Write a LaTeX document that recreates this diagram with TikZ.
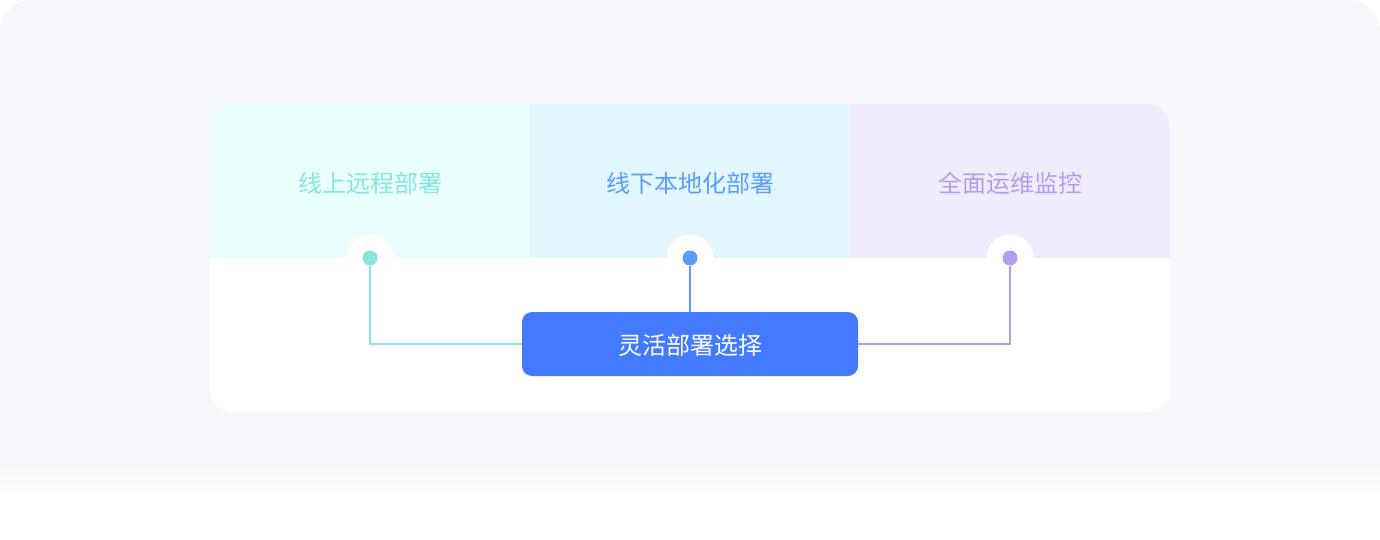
\documentclass[tikz,border=0pt]{standalone}
\usepackage{fontspec}
\usepackage{tikz}
\newfontfamily\cjk{Noto Sans CJK SC}
\definecolor{pagebg}{HTML}{F7F8FC}
\definecolor{tealbg}{HTML}{E8FFFD}
\definecolor{bluebg}{HTML}{E2F6FE}
\definecolor{purplebg}{HTML}{F1ECFD}
\definecolor{tealfg}{HTML}{8BE5DE}
\definecolor{bluefg}{HTML}{5C9CFF}
\definecolor{purplefg}{HTML}{B39DF1}
\definecolor{choicebg}{HTML}{437AFF}

\begin{document}
\begin{tikzpicture}[x=1pt,y=-1pt,
  panel/.style={inner sep=0pt,minimum width=320pt,minimum height=154pt},
  caption/.style={inner sep=0pt,font=\cjk\fontsize{24}{28}\selectfont},
  halo/.style={circle,fill=white,inner sep=0pt,minimum size=47pt},
  dot/.style={circle,inner sep=0pt,minimum size=15pt},
  link/.style={line width=1.6pt},
  choice/.style={fill=choicebg,rounded corners=10pt,inner sep=0pt,
    minimum width=336pt,minimum height=64pt}]
\useasboundingbox (0,0) rectangle (1380,540);
\fill[white] (0,0) rectangle (1380,540);
\fill[pagebg,rounded corners=32pt] (0,0) rectangle (1380,500);
\shade[top color=pagebg,bottom color=white] (0,460) rectangle (1380,500);
\fill[white,rounded corners=22pt] (210,104) rectangle (1170,412);
\begin{scope}
\clip[rounded corners=22pt] (210,104) rectangle (1170,412);
\node[panel,fill=tealbg] (online) at (370,181) {};
\node[panel,fill=bluebg] (offline) at (690,181) {};
\node[panel,fill=purplebg] (monitor) at (1010,181) {};
\end{scope}
\node[caption,text=tealfg] at ([yshift=-2pt]online) {线上远程部署};
\node[caption,text=bluefg] at ([yshift=-2pt]offline) {线下本地化部署};
\node[caption,text=purplefg] at ([yshift=-2pt]monitor) {全面运维监控};
\node[halo] (h1) at (370,258) {};
\node[halo] (h2) at (690,258) {};
\node[halo] (h3) at (1010,258) {};
\node[dot,fill=tealfg] (d1) at (h1) {};
\node[dot,fill=bluefg] (d2) at (h2) {};
\node[dot,fill=purplefg] (d3) at (h3) {};
\node[choice] (pick) at (690,344) {};
\node[caption,text=white] at ([yshift=-1.5pt]pick) {灵活部署选择};
\draw[link,tealfg] (d1) |- (pick.west);
\draw[link,bluefg] (d2) -- (pick);
\draw[link,purplefg] (d3) |- (pick.east);
\end{tikzpicture}
\end{document}
